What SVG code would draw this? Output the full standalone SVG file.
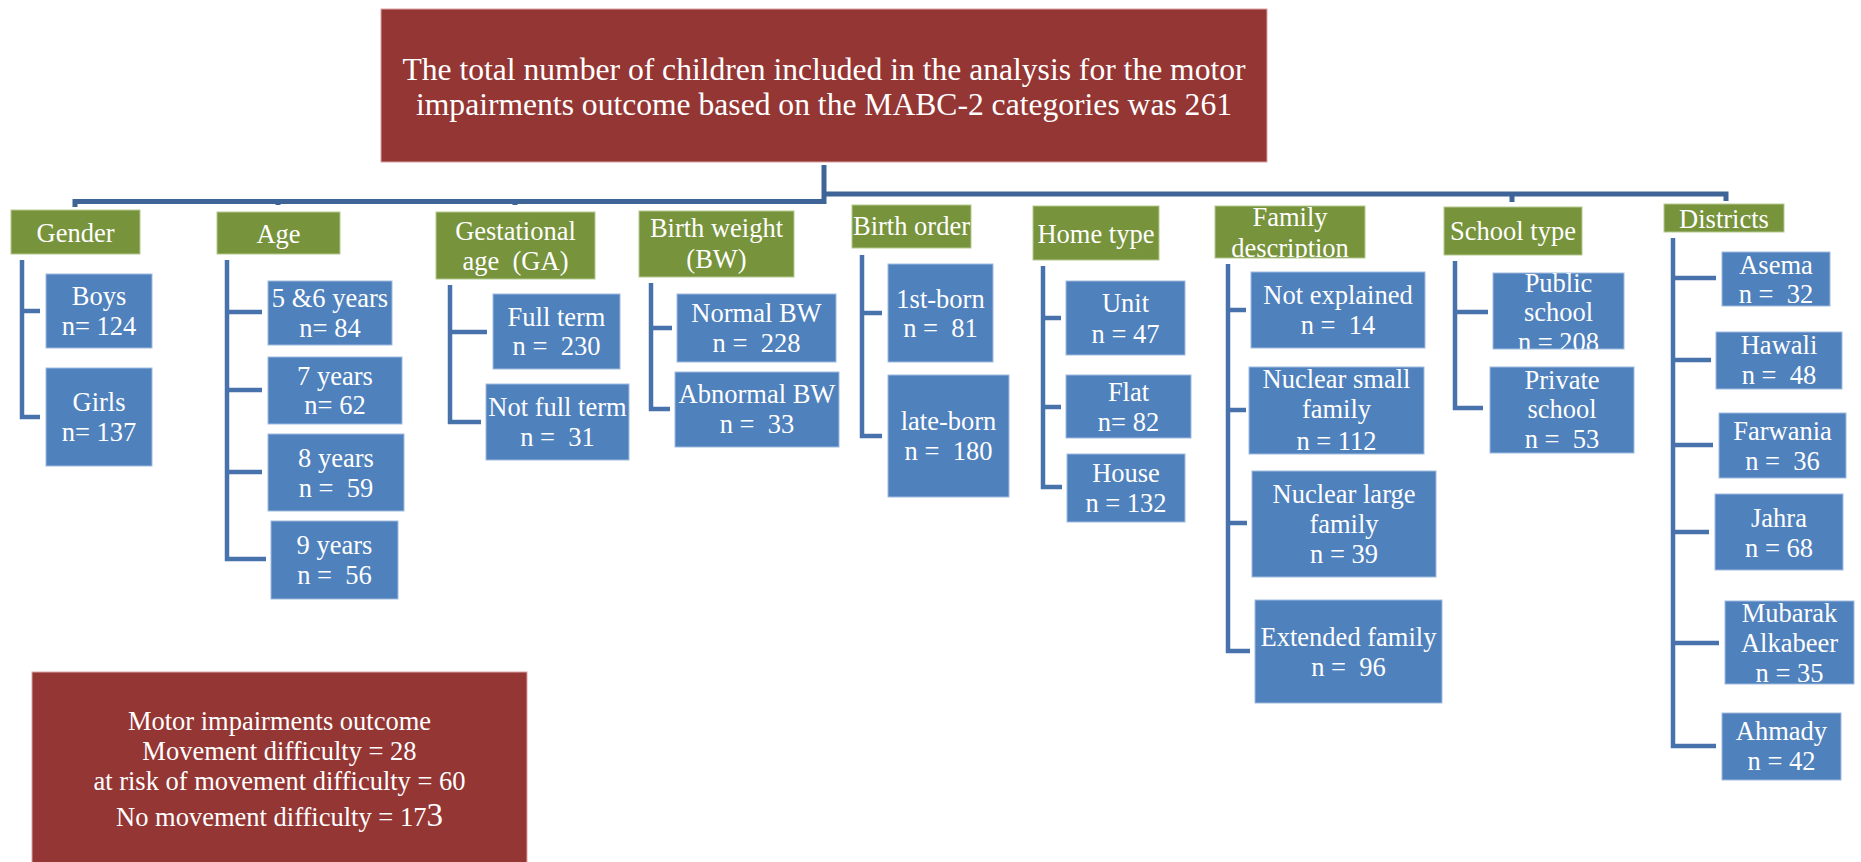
<svg xmlns="http://www.w3.org/2000/svg" width="1861" height="862" viewBox="0 0 1861 862">
  <style>
    .red { fill: #943634; stroke: #d9a3a2; stroke-width: 1; }
    .hdr { fill: #77933c; stroke: #b5c98f; stroke-width: 1; }
    .leaf { fill: #4f81bd; stroke: #9fbbe0; stroke-width: 1; }
    .t { font-family: "Liberation Serif", "Times New Roman", serif; font-size: 26.5px; fill: #ffffff; text-anchor: middle; }
    .title { font-size: 31.6px; }
    .trunk { fill: none; stroke: #3f6598; stroke-width: 5; stroke-linejoin: miter; }
    .br { fill: none; stroke: #4772ab; stroke-width: 4.5; stroke-linejoin: miter; }
  </style>
  <defs>
    <clipPath id="clipFam"><rect x="1215" y="206" width="150" height="52"/></clipPath>
    <clipPath id="clipPub"><rect x="1493" y="273" width="131" height="76"/></clipPath>
  </defs>
  <rect width="1861" height="862" fill="#ffffff"/>

  <!-- connectors -->
  <g id="connectors">
    <path class="trunk" d="M824 165 V204"/>
    <path class="trunk" d="M75 207 V201.5 H826"/>
    <path class="trunk" d="M278 201.5 V205 M515 201.5 V205"/>
    <path class="trunk" d="M822 194 H1726 V201"/>
    <path class="trunk" d="M1512 194 V202"/>
    <path class="br" d="M22 260 V417 H40 M22 311 H40"/>
    <path class="br" d="M227 260 V559 H266 M227 312 H262 M227 390 H262 M227 472 H262"/>
    <path class="br" d="M450 285 V422 H481 M450 332 H487"/>
    <path class="br" d="M651 283 V409 H670 M651 328 H672"/>
    <path class="br" d="M862 255 V436 H882 M862 313 H882"/>
    <path class="br" d="M1043 266 V487 H1062 M1043 318 H1061 M1043 407 H1061"/>
    <path class="br" d="M1228 264 V651 H1250 M1228 310 H1246 M1228 410 H1246 M1228 523 H1247"/>
    <path class="br" d="M1455 261 V408 H1483 M1455 312 H1488"/>
    <path class="br" d="M1673 238 V746 H1716 M1673 278 H1716 M1673 360 H1711 M1673 445 H1713 M1673 532 H1709 M1673 643 H1719"/>
  </g>

  <!-- root -->
  <g id="root">
    <rect class="red" x="381" y="9" width="886" height="153"/>
    <text class="t title" x="824" y="80">The total number of children included in the analysis for the motor</text>
    <text class="t title" x="824" y="115">impairments outcome based on the MABC-2 categories was 261</text>
  </g>

  <!-- Gender -->
  <g id="gender">
    <rect class="hdr" x="11" y="210" width="129" height="44"/>
    <text class="t" x="75.5" y="242">Gender</text>
  </g>
  <g id="boys">
    <rect class="leaf" x="46" y="274" width="106" height="74"/>
    <text class="t" x="99" y="305">Boys</text>
    <text class="t" x="99" y="335">n= 124</text>
  </g>
  <g id="girls">
    <rect class="leaf" x="46" y="368" width="106" height="98"/>
    <text class="t" x="99" y="411">Girls</text>
    <text class="t" x="99" y="441">n= 137</text>
  </g>

  <!-- Age -->
  <g id="age">
    <rect class="hdr" x="217" y="212" width="123" height="42"/>
    <text class="t" x="278.5" y="243">Age</text>
  </g>
  <g id="age56">
    <rect class="leaf" x="268" y="281" width="124" height="64"/>
    <text class="t" x="330" y="307">5 &amp;6 years</text>
    <text class="t" x="330" y="337">n= 84</text>
  </g>
  <g id="age7">
    <rect class="leaf" x="268" y="357" width="134" height="67"/>
    <text class="t" x="335" y="385">7 years</text>
    <text class="t" x="335" y="414">n= 62</text>
  </g>
  <g id="age8">
    <rect class="leaf" x="268" y="434" width="136" height="77"/>
    <text class="t" x="336" y="467">8 years</text>
    <text class="t" x="336" y="497">n = &#160;59</text>
  </g>
  <g id="age9">
    <rect class="leaf" x="271" y="521" width="127" height="78"/>
    <text class="t" x="334.5" y="554">9 years</text>
    <text class="t" x="334.5" y="584">n = &#160;56</text>
  </g>

  <!-- Gestational age -->
  <g id="ga">
    <rect class="hdr" x="436" y="212" width="159" height="67"/>
    <text class="t" x="515.5" y="240">Gestational</text>
    <text class="t" x="515.5" y="270">age &#160;(GA)</text>
  </g>
  <g id="fullterm">
    <rect class="leaf" x="493" y="294" width="127" height="75"/>
    <text class="t" x="556.5" y="326">Full term</text>
    <text class="t" x="556.5" y="355">n = &#160;230</text>
  </g>
  <g id="notfullterm">
    <rect class="leaf" x="486" y="384" width="143" height="76"/>
    <text class="t" x="557.5" y="416">Not full term</text>
    <text class="t" x="557.5" y="446">n = &#160;31</text>
  </g>

  <!-- Birth weight -->
  <g id="bw">
    <rect class="hdr" x="639" y="211" width="155" height="66"/>
    <text class="t" x="716.5" y="237">Birth weight</text>
    <text class="t" x="716.5" y="268">(BW)</text>
  </g>
  <g id="normalbw">
    <rect class="leaf" x="677" y="294" width="159" height="68"/>
    <text class="t" x="756.5" y="322">Normal BW</text>
    <text class="t" x="756.5" y="352">n = &#160;228</text>
  </g>
  <g id="abnormalbw">
    <rect class="leaf" x="675" y="372" width="164" height="75"/>
    <text class="t" x="757" y="403">Abnormal BW</text>
    <text class="t" x="757" y="433">n = &#160;33</text>
  </g>

  <!-- Birth order -->
  <g id="bo">
    <rect class="hdr" x="852" y="205" width="119" height="43"/>
    <text class="t" x="911.5" y="235">Birth order</text>
  </g>
  <g id="firstborn">
    <rect class="leaf" x="888" y="264" width="105" height="98"/>
    <text class="t" x="940.5" y="308">1st-born</text>
    <text class="t" x="940.5" y="337">n = &#160;81</text>
  </g>
  <g id="lateborn">
    <rect class="leaf" x="888" y="375" width="121" height="122"/>
    <text class="t" x="948.5" y="430">late-born</text>
    <text class="t" x="948.5" y="460">n = &#160;180</text>
  </g>

  <!-- Home type -->
  <g id="home">
    <rect class="hdr" x="1033" y="206" width="126" height="54"/>
    <text class="t" x="1096" y="243">Home type</text>
  </g>
  <g id="unit">
    <rect class="leaf" x="1066" y="281" width="119" height="74"/>
    <text class="t" x="1125.5" y="312">Unit</text>
    <text class="t" x="1125.5" y="343">n = 47</text>
  </g>
  <g id="flat">
    <rect class="leaf" x="1066" y="375" width="125" height="63"/>
    <text class="t" x="1128.5" y="401">Flat</text>
    <text class="t" x="1128.5" y="431">n= 82</text>
  </g>
  <g id="house">
    <rect class="leaf" x="1067" y="454" width="118" height="68"/>
    <text class="t" x="1126" y="482">House</text>
    <text class="t" x="1126" y="512">n = 132</text>
  </g>

  <!-- Family description -->
  <g id="family">
    <rect class="hdr" x="1215" y="206" width="150" height="52"/>
    <g clip-path="url(#clipFam)">
      <text class="t" x="1290" y="226">Family</text>
      <text class="t" x="1290" y="257">description</text>
    </g>
  </g>
  <g id="notexplained">
    <rect class="leaf" x="1251" y="272" width="174" height="76"/>
    <text class="t" x="1338" y="304">Not explained</text>
    <text class="t" x="1338" y="334">n = &#160;14</text>
  </g>
  <g id="nuclearsmall">
    <rect class="leaf" x="1249" y="367" width="175" height="87"/>
    <text class="t" x="1336.5" y="388">Nuclear small</text>
    <text class="t" x="1336.5" y="418">family</text>
    <text class="t" x="1336.5" y="450">n = 112</text>
  </g>
  <g id="nuclearlarge">
    <rect class="leaf" x="1252" y="471" width="184" height="106"/>
    <text class="t" x="1344" y="503">Nuclear large</text>
    <text class="t" x="1344" y="533">family</text>
    <text class="t" x="1344" y="563">n = 39</text>
  </g>
  <g id="extended">
    <rect class="leaf" x="1255" y="600" width="187" height="103"/>
    <text class="t" x="1348.5" y="646">Extended family</text>
    <text class="t" x="1348.5" y="676">n = &#160;96</text>
  </g>

  <!-- School type -->
  <g id="school">
    <rect class="hdr" x="1444" y="207" width="138" height="48"/>
    <text class="t" x="1513" y="240">School type</text>
  </g>
  <g id="public">
    <rect class="leaf" x="1493" y="273" width="131" height="76"/>
    <g clip-path="url(#clipPub)">
      <text class="t" x="1558.5" y="292">Public</text>
      <text class="t" x="1558.5" y="321">school</text>
      <text class="t" x="1558.5" y="351">n = 208</text>
    </g>
  </g>
  <g id="private">
    <rect class="leaf" x="1490" y="367" width="144" height="86"/>
    <text class="t" x="1562" y="389">Private</text>
    <text class="t" x="1562" y="418">school</text>
    <text class="t" x="1562" y="448">n = &#160;53</text>
  </g>

  <!-- Districts -->
  <g id="districts">
    <rect class="hdr" x="1664" y="204" width="120" height="28"/>
    <text class="t" x="1724" y="228">Districts</text>
  </g>
  <g id="asema">
    <rect class="leaf" x="1722" y="252" width="108" height="54"/>
    <text class="t" x="1776" y="274">Asema</text>
    <text class="t" x="1776" y="303">n = &#160;32</text>
  </g>
  <g id="hawali">
    <rect class="leaf" x="1716" y="332" width="126" height="57"/>
    <text class="t" x="1779" y="354">Hawali</text>
    <text class="t" x="1779" y="384">n = &#160;48</text>
  </g>
  <g id="farwania">
    <rect class="leaf" x="1719" y="413" width="127" height="65"/>
    <text class="t" x="1782.5" y="440">Farwania</text>
    <text class="t" x="1782.5" y="470">n = &#160;36</text>
  </g>
  <g id="jahra">
    <rect class="leaf" x="1715" y="494" width="128" height="76"/>
    <text class="t" x="1779" y="527">Jahra</text>
    <text class="t" x="1779" y="557">n = 68</text>
  </g>
  <g id="mubarak">
    <rect class="leaf" x="1725" y="601" width="129" height="83"/>
    <text class="t" x="1789.5" y="622">Mubarak</text>
    <text class="t" x="1789.5" y="652">Alkabeer</text>
    <text class="t" x="1789.5" y="682">n = 35</text>
  </g>
  <g id="ahmady">
    <rect class="leaf" x="1722" y="713" width="119" height="67"/>
    <text class="t" x="1781.5" y="740">Ahmady</text>
    <text class="t" x="1781.5" y="770">n = 42</text>
  </g>

  <!-- outcome summary -->
  <g id="outcome">
    <rect class="red" x="32" y="672" width="495" height="200"/>
    <text class="t" x="279.5" y="730">Motor impairments outcome</text>
    <text class="t" x="279.5" y="760">Movement difficulty = 28</text>
    <text class="t" x="279.5" y="790">at risk of movement difficulty = 60</text>
    <text class="t" x="279.5" y="826">No movement difficulty = 17<tspan font-size="33">3</tspan></text>
  </g>
</svg>
